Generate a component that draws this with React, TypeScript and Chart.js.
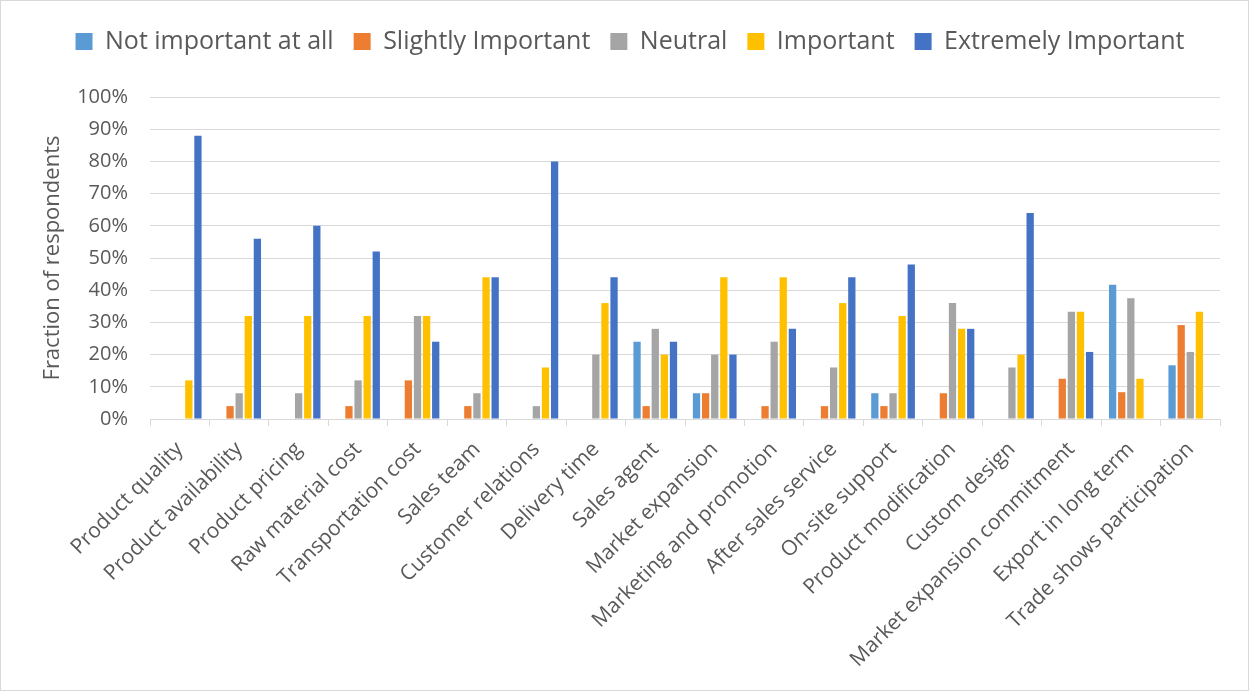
import React, { useEffect, useRef } from "react";
import { Chart, registerables } from "chart.js";

Chart.register(...registerables);

const categories = [
  "Product quality",
  "Product availability",
  "Product pricing",
  "Raw material cost",
  "Transportation cost",
  "Sales team",
  "Customer relations",
  "Delivery time",
  "Sales agent",
  "Market expansion",
  "Marketing and promotion",
  "After sales service",
  "On-site support",
  "Product modification",
  "Custom design",
  "Market expansion commitment",
  "Export in long term",
  "Trade shows participation",
];

const notImportantAtAll = [0, 0, 0, 0, 0, 0, 0, 0, 24, 8, 0, 0, 8, 0, 0, 0, 41.67, 16.67];
const slightlyImportant = [0, 4, 0, 4, 12, 4, 0, 0, 4, 8, 4, 4, 4, 8, 0, 12.5, 8.33, 29.17];
const neutral = [0, 8, 8, 12, 32, 8, 4, 20, 28, 20, 24, 16, 8, 36, 16, 33.33, 37.5, 20.83];
const important = [12, 32, 32, 32, 32, 44, 16, 36, 20, 44, 44, 36, 32, 28, 20, 33.33, 12.5, 33.33];
const extremelyImportant = [88, 56, 60, 52, 24, 44, 80, 44, 24, 20, 28, 44, 48, 28, 64, 20.83, 0, 0];

const seriesNames = [
  "Not important at all",
  "Slightly Important",
  "Neutral",
  "Important",
  "Extremely Important",
];
const seriesValues = [notImportantAtAll, slightlyImportant, neutral, important, extremelyImportant];
const seriesColors = ["#5B9BD5", "#ED7D31", "#A5A5A5", "#FFC000", "#4472C4"];

const yMin = 0;
const yMax = 100;
const yStep = 10;
const yTitle = "Fraction of respondents";

const TEXT = "#595959";
const GRID = "#d9d9d9";

export default function App() {
  const ref = useRef<HTMLCanvasElement>(null);

  useEffect(() => {
    if (!ref.current) return;
    Chart.defaults.font.family = '"Open Sans", "Liberation Sans", sans-serif';
    Chart.defaults.color = TEXT;

    const legendSpace = {
      id: "legendSpace",
      beforeInit(chart: any) {
        const orig = chart.legend.fit;
        chart.legend.fit = function () {
          orig.bind(chart.legend)();
          this.height += 33;
        };
      },
    };
    const frame = {
      id: "frame",
      afterDraw(chart: any) {
        const ctx = chart.ctx;
        ctx.save();
        ctx.strokeStyle = GRID;
        ctx.lineWidth = 1;
        ctx.strokeRect(0.5, 0.5, chart.width - 1, chart.height - 1);
        ctx.restore();
      },
    };

    const chart = new Chart(ref.current, {
      type: "bar",
      data: {
        labels: categories,
        datasets: seriesNames.map((name, i) => ({
          label: name,
          data: seriesValues[i].map((v) => (v === 0 ? null : v)),
          backgroundColor: seriesColors[i],
          borderWidth: 0,
          barPercentage: 0.8,
          categoryPercentage: 0.766,
        })),
      },
      options: {
        responsive: false,
        animation: false,
        devicePixelRatio: 1,
        layout: { padding: { top: 9, left: 11, right: 0, bottom: 0 } },
        plugins: {
          legend: {
            position: "top",
            labels: {
              boxWidth: 17,
              boxHeight: 17,
              padding: 20,
              color: TEXT,
              font: { size: 25 },
            },
          },
          tooltip: { enabled: false },
        },
        scales: {
          x: {
            grid: {
              display: true,
              drawOnChartArea: false,
              drawTicks: true,
              tickLength: 7,
              color: GRID,
              offset: true,
            },
            border: { display: true, color: GRID, width: 1 },
            ticks: {
              autoSkip: false,
              maxRotation: 45,
              minRotation: 45,
              color: TEXT,
              font: { size: 21 },
              padding: 11,
            },
            afterFit(scale: any) {
              scale.height = 272;
              scale.paddingLeft = 0;
              scale.paddingRight = 0;
            },
          },
          y: {
            min: yMin,
            max: yMax,
            ticks: {
              stepSize: yStep,
              callback: (v: any) => v + "%",
              padding: 22,
              color: TEXT,
              font: { size: 20 },
            },
            grid: { color: GRID, drawTicks: false, lineWidth: 1 },
            border: { display: false },
            title: {
              display: true,
              text: yTitle,
              color: TEXT,
              font: { size: 22 },
              padding: { top: 29, bottom: 0 },
            },
            afterFit(scale: any) {
              scale.width = 139;
            },
          },
          y2: {
            position: "right",
            display: true,
            grid: { display: false },
            ticks: { display: false },
            border: { display: false },
            afterFit(scale: any) {
              scale.width = 29;
            },
          },
        },
      },
      plugins: [legendSpace, frame],
    } as any);

    return () => chart.destroy();
  }, []);

  return (
    <div style={{ position: "fixed", left: 0, top: 0, width: 1249, height: 691, background: "#fff" }}>
      <canvas ref={ref} width={1249} height={691} style={{ width: 1249, height: 691, display: "block" }} />
    </div>
  );
}
